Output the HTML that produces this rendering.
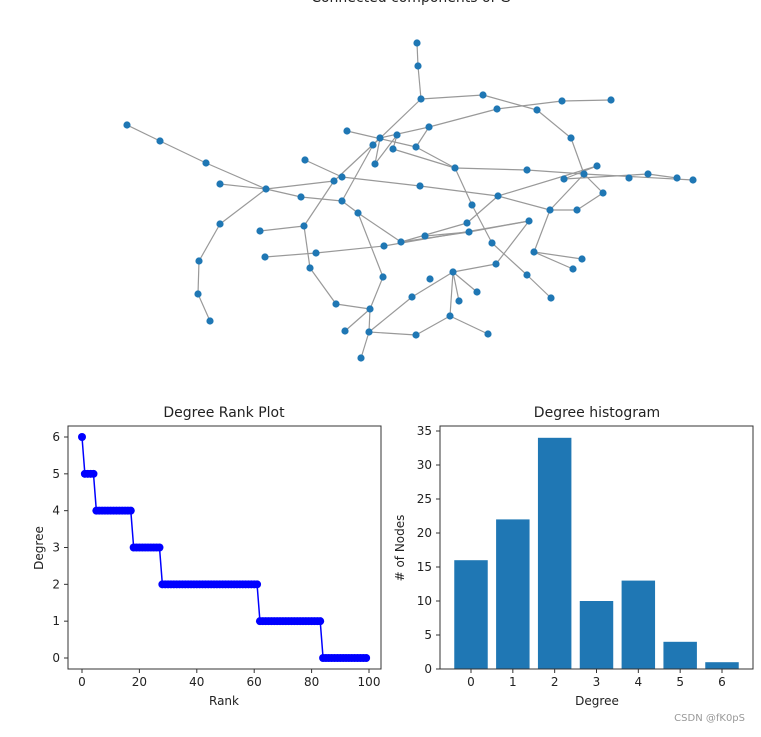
<!DOCTYPE html>
<html><head><meta charset="utf-8"><style>
body{margin:0;background:#fff;width:761px;height:732px;overflow:hidden;font-family:"Liberation Sans","DejaVu Sans",sans-serif}
svg text{font-family:"DejaVu Sans","Liberation Sans",sans-serif;fill:#222}
</style></head><body>
<svg id="c" width="761" height="732">
<text x="411" y="2" text-anchor="middle" font-size="14">Connected components of G</text>
<g id="net"></g>
<g id="rank"></g>
<g id="hist"></g>
<text x="745" y="721" text-anchor="end" font-size="10" style="fill:#999">CSDN @fK0pS</text>
</svg>
<script>
const degreeCategories=[0,1,2,3,4,5,6];
const nodeCounts=[16,22,34,10,13,4,1];
const histTicksY=[0,5,10,15,20,25,30,35];
const rankTicksX=[0,20,40,60,80,100];
const rankTicksY=[0,1,2,3,4,5,6];
const nodes=[[417,43],[418,66],[421,99],[483,95],[497,109],[537,110],[562,101],[611,100],[429,127],[380,138],[397,135],[373,145],[416,147],[393,149],[347,131],[375,164],[305,160],[455,168],[527,170],[571,138],[584,174],[597,166],[564,179],[629,178],[648,174],[677,178],[693,180],[603,193],[342,177],[334,181],[420,186],[498,196],[266,189],[220,184],[206,163],[160,141],[127,125],[301,197],[342,201],[358,213],[472,205],[550,210],[577,210],[467,223],[529,221],[220,224],[304,226],[260,231],[469,232],[425,236],[401,242],[384,246],[492,243],[316,253],[265,257],[534,252],[582,259],[573,269],[496,264],[310,268],[383,277],[453,272],[430,279],[527,275],[199,261],[198,294],[210,321],[336,304],[370,309],[412,297],[477,292],[459,301],[551,298],[450,316],[345,331],[369,332],[416,335],[488,334],[361,358]];
const edges=[[0,1],[1,2],[2,3],[3,5],[5,19],[19,20],[2,11],[4,6],[6,7],[8,4],[8,9],[8,12],[9,29],[10,13],[11,38],[14,12],[16,28],[28,30],[30,31],[31,41],[41,42],[42,27],[27,20],[17,18],[17,12],[18,20],[20,26],[25,24],[24,22],[22,21],[21,31],[20,41],[41,55],[55,56],[55,57],[43,31],[43,50],[40,17],[40,52],[52,63],[63,72],[32,33],[32,34],[34,35],[35,36],[32,45],[45,64],[64,65],[65,66],[32,29],[32,37],[37,38],[38,39],[39,50],[39,60],[46,29],[46,47],[46,59],[59,67],[67,68],[68,75],[68,74],[75,78],[75,76],[76,73],[73,61],[61,58],[58,44],[61,71],[61,70],[54,53],[53,51],[51,44],[50,48],[48,44],[60,68],[69,61],[69,75],[73,77],[49,48],[15,10],[15,9],[13,17]];
const net=document.getElementById('net');
const NS='http://www.w3.org/2000/svg';
function mk(t,a,p){const e=document.createElementNS(NS,t);for(const k in a)e.setAttribute(k,a[k]);p.appendChild(e);return e;}
edges.forEach(([a,b])=>{const l=mk('line',{x1:nodes[a][0],y1:nodes[a][1],x2:nodes[b][0],y2:nodes[b][1],stroke:'#999','stroke-width':1.2},net);

});
nodes.forEach(([x,y])=>{const c=mk('circle',{cx:x,cy:y,r:3.6,fill:'#1f77b4'},net);

});
// rank plot
const R=document.getElementById('rank');
const rx=v=>82+v*(369-82)/100, ry=v=>658-v*(658-437)/6;
mk('text',{x:224,y:417,'text-anchor':'middle','font-size':14},R).textContent='Degree Rank Plot';
const seq=[];for(let d=degreeCategories.length-1;d>=0;d--)for(let i=0;i<nodeCounts[d];i++)seq.push(degreeCategories[d]);
let pts=seq.map((d,i)=>rx(i)+','+ry(d)).join(' ');
const pl=mk('polyline',{points:pts,fill:'none',stroke:'#0000ff','stroke-width':1.5},R);


seq.forEach((d,i)=>{const c=mk('circle',{cx:rx(i),cy:ry(d),r:4,fill:'#0000ff'},R);

});
mk('rect',{x:68,y:426,width:313,height:243,fill:'none',stroke:'#333','stroke-width':1},R);
rankTicksX.forEach(v=>{mk('line',{x1:rx(v),x2:rx(v),y1:669,y2:673,stroke:'#333'},R);mk('text',{x:rx(v),y:686,'text-anchor':'middle','font-size':12},R).textContent=v;});
rankTicksY.forEach(v=>{mk('line',{x1:64,x2:68,y1:ry(v),y2:ry(v),stroke:'#333'},R);mk('text',{x:60,y:ry(v)+4,'text-anchor':'end','font-size':12},R).textContent=v;});
mk('text',{x:224,y:705,'text-anchor':'middle','font-size':12},R).textContent='Rank';
mk('text',{x:43,y:548,'text-anchor':'middle','font-size':12,transform:'rotate(-90 43 548)'},R).textContent='Degree';
// histogram
const H=document.getElementById('hist');
const hx=v=>471+v*(722-471)/6, hy=v=>669-v*(669-431)/35;const bw=0.8*(722-471)/6;
mk('text',{x:597,y:417,'text-anchor':'middle','font-size':14},H).textContent='Degree histogram';
degreeCategories.forEach((c,i)=>{const r=mk('rect',{x:hx(c)-bw/2,y:hy(nodeCounts[i]),width:bw,height:669-hy(nodeCounts[i]),fill:'#1f77b4'},H);


mk('line',{x1:hx(c),x2:hx(c),y1:669,y2:673,stroke:'#333'},H);mk('text',{x:hx(c),y:686,'text-anchor':'middle','font-size':12},H).textContent=c;});
mk('rect',{x:440,y:426,width:313,height:243,fill:'none',stroke:'#333','stroke-width':1},H);
histTicksY.forEach(v=>{mk('line',{x1:436,x2:440,y1:hy(v),y2:hy(v),stroke:'#333'},H);mk('text',{x:432,y:hy(v)+4,'text-anchor':'end','font-size':12},H).textContent=v;});
mk('text',{x:597,y:705,'text-anchor':'middle','font-size':12},H).textContent='Degree';
mk('text',{x:404,y:548,'text-anchor':'middle','font-size':12,transform:'rotate(-90 404 548)'},H).textContent='# of Nodes';
</script>
</body></html>
